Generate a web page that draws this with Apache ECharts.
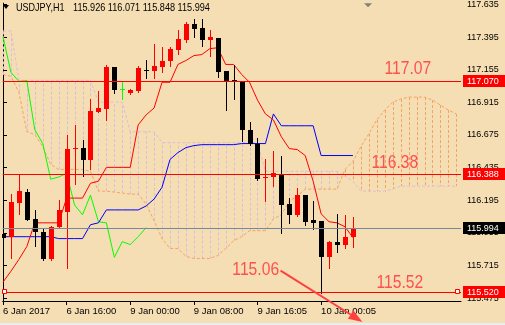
<!DOCTYPE html>
<html><head><meta charset="utf-8">
<script src="https://cdn.jsdelivr.net/npm/echarts@6/dist/echarts.min.js"></script>
<style>html,body{margin:0;padding:0;background:#F5DEB3;overflow:hidden}#c{width:505px;height:325px}</style>
</head><body><div id="c"></div>
<script>
// ---- data (H1 candles, index 0 = leftmost bar) ----
const symbolTitle = 'USDJPY,H1';
const candleOpen  = [115.949,115.927,116.175,116.255,116.058,115.964,115.760,116.000,116.109,116.578,116.582,116.488,116.844,116.866,117.172,117.012,116.983,116.997,117.152,117.143,117.172,117.216,117.303,117.376,117.492,117.463,117.376,117.390,117.143,117.079,117.070,116.713,116.612,116.362,116.364,116.386,116.168,116.088,116.233,116.051,116.044,115.775,115.891,115.869,115.926];
const candleHigh  = [116.000,116.240,116.386,116.277,116.124,115.993,116.005,116.197,116.677,116.750,116.641,116.939,116.997,117.187,117.175,117.070,117.012,117.179,117.230,117.347,117.325,117.325,117.449,117.507,117.529,117.529,117.449,117.392,117.145,117.187,117.072,116.772,116.655,116.495,116.561,116.517,116.211,116.284,116.235,116.189,116.046,115.893,116.095,116.088,116.071];
const candleLow   = [115.840,115.767,116.095,116.048,115.855,115.757,115.755,115.993,115.695,116.313,116.371,116.422,116.842,116.786,116.983,116.939,116.975,116.990,117.092,117.092,117.136,117.179,117.274,117.361,117.398,117.332,117.259,117.099,116.859,116.939,116.633,116.604,116.347,116.189,116.299,115.957,116.029,116.080,116.015,115.986,115.513,115.695,115.811,115.847,115.848];
const candleClose = [115.920,116.182,116.262,116.051,115.964,115.760,116.000,116.124,116.575,116.582,116.488,116.852,116.874,117.172,117.005,117.012,117.005,117.165,117.148,117.179,117.216,117.310,117.383,117.492,117.456,117.376,117.398,117.136,117.070,117.075,116.713,116.612,116.350,116.366,116.393,116.160,116.088,116.233,116.037,116.029,115.775,115.891,115.869,115.927,115.994];
const tenkan = [115.593,115.673,115.760,115.855,116.029,116.029,116.029,116.029,116.211,116.211,116.211,116.320,116.335,116.437,116.437,116.437,116.437,116.750,116.823,116.874,117.063,117.063,117.194,117.223,117.259,117.267,117.310,117.317,117.194,117.194,117.121,117.063,116.932,116.830,116.786,116.662,116.575,116.568,116.524,116.335,116.095,116.037,116.029,116.000,115.920];
const kijun = [115.927,115.927,115.927,115.927,115.927,115.927,115.927,115.913,115.913,115.913,115.913,116.015,116.029,116.124,116.124,116.124,116.124,116.124,116.153,116.204,116.291,116.495,116.546,116.582,116.597,116.604,116.604,116.604,116.604,116.604,116.612,116.612,116.612,116.612,116.830,116.743,116.743,116.743,116.743,116.743,116.524,116.524,116.524,116.524,116.524];
const senkouA = [117.121,117.106,116.990,116.699,116.677,116.590,116.459,116.422,116.422,116.422,116.422,116.408,116.262,116.262,116.255,116.248,116.240,116.240,116.168,116.044,115.913,115.840,115.840,115.782,115.767,115.767,115.767,115.789,115.840,115.898,115.927,115.971,115.971,115.971,116.058,116.088,116.189,116.226,116.277,116.277,116.277,116.277,116.277,116.422,116.481,116.590,116.684,116.786,116.859,116.917,116.939,116.954,116.954,116.954,116.932,116.895,116.859,116.830];
const senkouB = [117.441,117.441,117.077,117.077,117.077,117.077,117.077,117.077,117.077,117.077,117.077,117.077,116.917,116.917,116.917,116.917,116.699,116.699,116.699,116.699,116.619,116.619,116.619,116.619,116.619,116.619,116.619,116.619,116.619,116.619,116.619,116.619,116.619,116.408,116.408,116.408,116.408,116.408,116.408,116.408,116.408,116.408,116.408,116.371,116.335,116.262,116.262,116.262,116.262,116.277,116.299,116.299,116.299,116.299,116.299,116.299,116.299,116.299];
const chikouShift = 26;
const yTickValues = [117.635,117.395,117.155,116.915,116.675,116.435,116.195,115.955,115.715,115.475];
const xTickIndex  = [0,8,16,24,32,40];
const xTickLabels = ['6 Jan 2017','6 Jan 16:00','9 Jan 00:00','9 Jan 08:00','9 Jan 16:05','10 Jan 00:05'];
const levelLines  = [117.07,116.388,115.52];
const bidPrice    = 115.994;
const noteText  = ['117.07','116.38','115.52','115.06'];
const noteX     = [47.96,46.34,46.96,28.84];
const notePrice = [117.161,116.468,115.585,115.680];
const arrowFrom = [34.9,115.678];
const arrowTo   = [45.2,115.300];

// ---- chart ----
const X_MIN = -0.0375, X_MAX = 57.5875, Y_MIN = 115.454, Y_MAX = 117.645;
const FONT = "'Liberation Sans',Arial,sans-serif";
const SANDY = '#F4A460', THISTLE = '#D8BFD8';

const candleData = candleOpen.map((o,i)=>[i,o,candleHigh[i],candleLow[i],candleClose[i]]);
const lineData = arr => arr.map((v,i)=>[i,v]);
const chikouData = [];
for (let i=chikouShift;i<candleClose.length;i++) chikouData.push([i-chikouShift,candleClose[i]]);
const cloudData = senkouA.map((a,i)=>[i,a,senkouB[i]]);
const last = candleData.length-1;
const fmt = v=>v.toFixed(3);
const quote = [candleOpen[last],candleHigh[last],candleLow[last],candleClose[last]].map(fmt).join(' ');

const chart = echarts.init(document.getElementById('c'), null, {renderer:'canvas'});
chart.setOption({
  animation:false,
  backgroundColor:'#F5DEB3',
  graphic:[
    {type:'polygon',shape:{points:[[3,5],[9,5],[6,9]]},style:{fill:'#000'}},
    {type:'text',x:16,y:8,scaleX:0.82,style:{x:0,y:0,text:symbolTitle,fill:'#000',font:'11px '+FONT,verticalAlign:'middle'}},
    {type:'text',x:73,y:8,scaleX:0.83,style:{x:0,y:0,text:quote,fill:'#000',font:'11px '+FONT,verticalAlign:'middle'}},
    {type:'rect',shape:{x:0,y:323,width:505,height:2},style:{fill:'#E6EDF5'}}
  ],
  grid:{left:0,right:44,top:0,bottom:24,containLabel:false},
  xAxis:{type:'value',min:X_MIN,max:X_MAX,
    axisLine:{show:true,onZero:false,lineStyle:{color:'#000',width:1}},
    axisTick:{show:true,customValues:xTickIndex,length:4,lineStyle:{color:'#000'}},
    axisLabel:{customValues:xTickIndex,formatter:v=>xTickLabels[xTickIndex.indexOf(Math.round(v))]||'',align:'left',margin:5,color:'#000',fontFamily:FONT,fontSize:9.5,showMinLabel:true,showMaxLabel:true},
    splitLine:{show:false}},
  yAxis:{type:'value',position:'right',min:Y_MIN,max:Y_MAX,scale:true,
    axisLine:{show:true,lineStyle:{color:'#000',width:1}},
    axisTick:{show:true,customValues:yTickValues,length:4,lineStyle:{color:'#000'}},
    axisLabel:{customValues:yTickValues,formatter:fmt,margin:6,color:'#000',fontFamily:FONT,fontSize:9},
    splitLine:{show:false}},
  series:[
    {name:'cloud',type:'custom',z:1,clip:true,data:cloudData,encode:{x:0,y:[1,2]},
      renderItem:(params,api)=>{
        const i=api.value(0),a=api.value(1),b=api.value(2);
        const pa=api.coord([i,a]),pb=api.coord([i,b]);
        const x=Math.round(pa[0])+0.5;
        return {type:'line',shape:{x1:x,y1:pa[1],x2:x,y2:pb[1]},style:{stroke:a>b?SANDY:THISTLE,lineWidth:1,lineDash:[3,2]}};
      }},
    {name:'Senkou A',type:'line',z:2,data:lineData(senkouA),symbol:'none',lineStyle:{color:SANDY,width:1,type:[3,2]}},
    {name:'Senkou B',type:'line',z:2,data:lineData(senkouB),symbol:'none',lineStyle:{color:THISTLE,width:1,type:[3,2]}},
    {name:'bid',type:'line',z:2,data:[],symbol:'none',
      markLine:{silent:true,symbol:'none',label:{show:false},lineStyle:{color:'#778899',width:1,type:'solid'},data:[{yAxis:bidPrice}]}},
    {name:'Chikou',type:'line',z:3,data:chikouData,symbol:'none',lineStyle:{color:'#00FF00',width:1}},
    {name:'Kijun',type:'line',z:3,data:lineData(kijun),symbol:'none',lineStyle:{color:'#0000FF',width:1}},
    {name:'Tenkan',type:'line',z:3,data:lineData(tenkan),symbol:'none',lineStyle:{color:'#FF0000',width:1}},
    {name:'candles',type:'custom',z:4,clip:true,data:candleData,encode:{x:0,y:[1,2,3,4]},
      renderItem:(params,api)=>{
        const i=api.value(0),o=api.value(1),h=api.value(2),l=api.value(3),c=api.value(4);
        const pO=api.coord([i,o]),pC=api.coord([i,c]),pH=api.coord([i,h]),pL=api.coord([i,l]);
        const xc=Math.round(pO[0]);
        const col=c>o?'#FF0000':(c<o?'#000000':'#00FF00');
        const top=Math.round(Math.min(pO[1],pC[1])),bot=Math.round(Math.max(pO[1],pC[1]));
        return {type:'group',children:[
          {type:'line',shape:{x1:xc+0.5,y1:Math.round(pH[1]),x2:xc+0.5,y2:Math.round(pL[1])+1},style:{stroke:col,lineWidth:1}},
          {type:'rect',shape:{x:xc-2,y:top,width:5,height:Math.max(1,bot-top)},style:{fill:col}}
        ]};
      }},
    {name:'levels',type:'line',z:5,data:[],symbol:'none',
      markLine:{silent:true,symbol:'none',label:{show:false},lineStyle:{color:'#FF0000',width:1,type:'solid'},data:levelLines.map(v=>({yAxis:v}))}},
    {name:'notes',type:'custom',z:6,clip:false,data:noteX.map((x,i)=>[x,notePrice[i]]),encode:{x:0,y:1},
      renderItem:(params,api)=>{
        const p=api.coord([api.value(0),api.value(1)]);
        return {type:'text',x:p[0],y:p[1],scaleX:0.87,style:{x:0,y:0,text:noteText[params.dataIndex],fill:'#FF5050',font:"18px 'Liberation Sans',Arial,sans-serif",align:'left',verticalAlign:'middle'}};
      }},
    {name:'arrow',type:'custom',z:6,clip:false,data:[[arrowFrom[0],arrowFrom[1],arrowTo[0],arrowTo[1]]],encode:{x:[0,2],y:[1,3]},
      renderItem:(params,api)=>{
        const p1=api.coord([api.value(0),api.value(1)]),p2=api.coord([api.value(2),api.value(3)]);
        const dx=p2[0]-p1[0],dy=p2[1]-p1[1],len=Math.hypot(dx,dy),ux=dx/len,uy=dy/len;
        const hl=14,hw=5;
        const bx=p2[0]-ux*hl,by=p2[1]-uy*hl;
        return {type:'group',children:[
          {type:'line',shape:{x1:p1[0],y1:p1[1],x2:bx,y2:by},style:{stroke:'#FF4040',lineWidth:2}},
          {type:'polygon',shape:{points:[[p2[0],p2[1]],[bx-uy*hw,by+ux*hw],[bx+uy*hw,by-ux*hw]]},style:{fill:'#FF4040'}}
        ]};
      }},
    {name:'priceTags',type:'custom',z:7,clip:false,
      data:[[X_MAX,levelLines[0]],[X_MAX,levelLines[1]],[X_MAX,bidPrice],[X_MAX,levelLines[2]]],encode:{x:0,y:1},
      renderItem:(params,api)=>{
        const v=api.value(1),p=api.coord([api.value(0),v]);
        const bg=v===bidPrice?'#000000':'#FF0000';
        const y=Math.round(p[1]);
        return {type:'group',children:[
          {type:'rect',shape:{x:Math.round(p[0])+2,y:y-6,width:44,height:12},style:{fill:bg}},
          {type:'text',style:{x:Math.round(p[0])+6,y:y+0.5,text:fmt(v),fill:'#FFFFFF',font:'9px '+FONT,align:'left',verticalAlign:'middle'}}
        ]};
      }},
    {name:'anchors',type:'custom',z:7,clip:false,data:[[0.275,levelLines[2]],[57.25,levelLines[2]]],encode:{x:0,y:1},
      renderItem:(params,api)=>{
        const p=api.coord([api.value(0),api.value(1)]);
        return {type:'rect',shape:{x:Math.round(p[0])-2.5,y:Math.round(p[1])-2.5,width:4,height:4},style:{fill:'#FFFFFF',stroke:'#FF0000',lineWidth:1}};
      }},
    {name:'shift',type:'custom',z:7,clip:false,data:[[45.9,Y_MAX]],encode:{x:0,y:1},
      renderItem:(params,api)=>{
        const p=api.coord([api.value(0),api.value(1)]);
        return {type:'polygon',shape:{points:[[p[0]-4,p[1]],[p[0]+4,p[1]],[p[0],p[1]+4]]},style:{fill:'#808080'}};
      }}
  ]
});
</script></body></html>
